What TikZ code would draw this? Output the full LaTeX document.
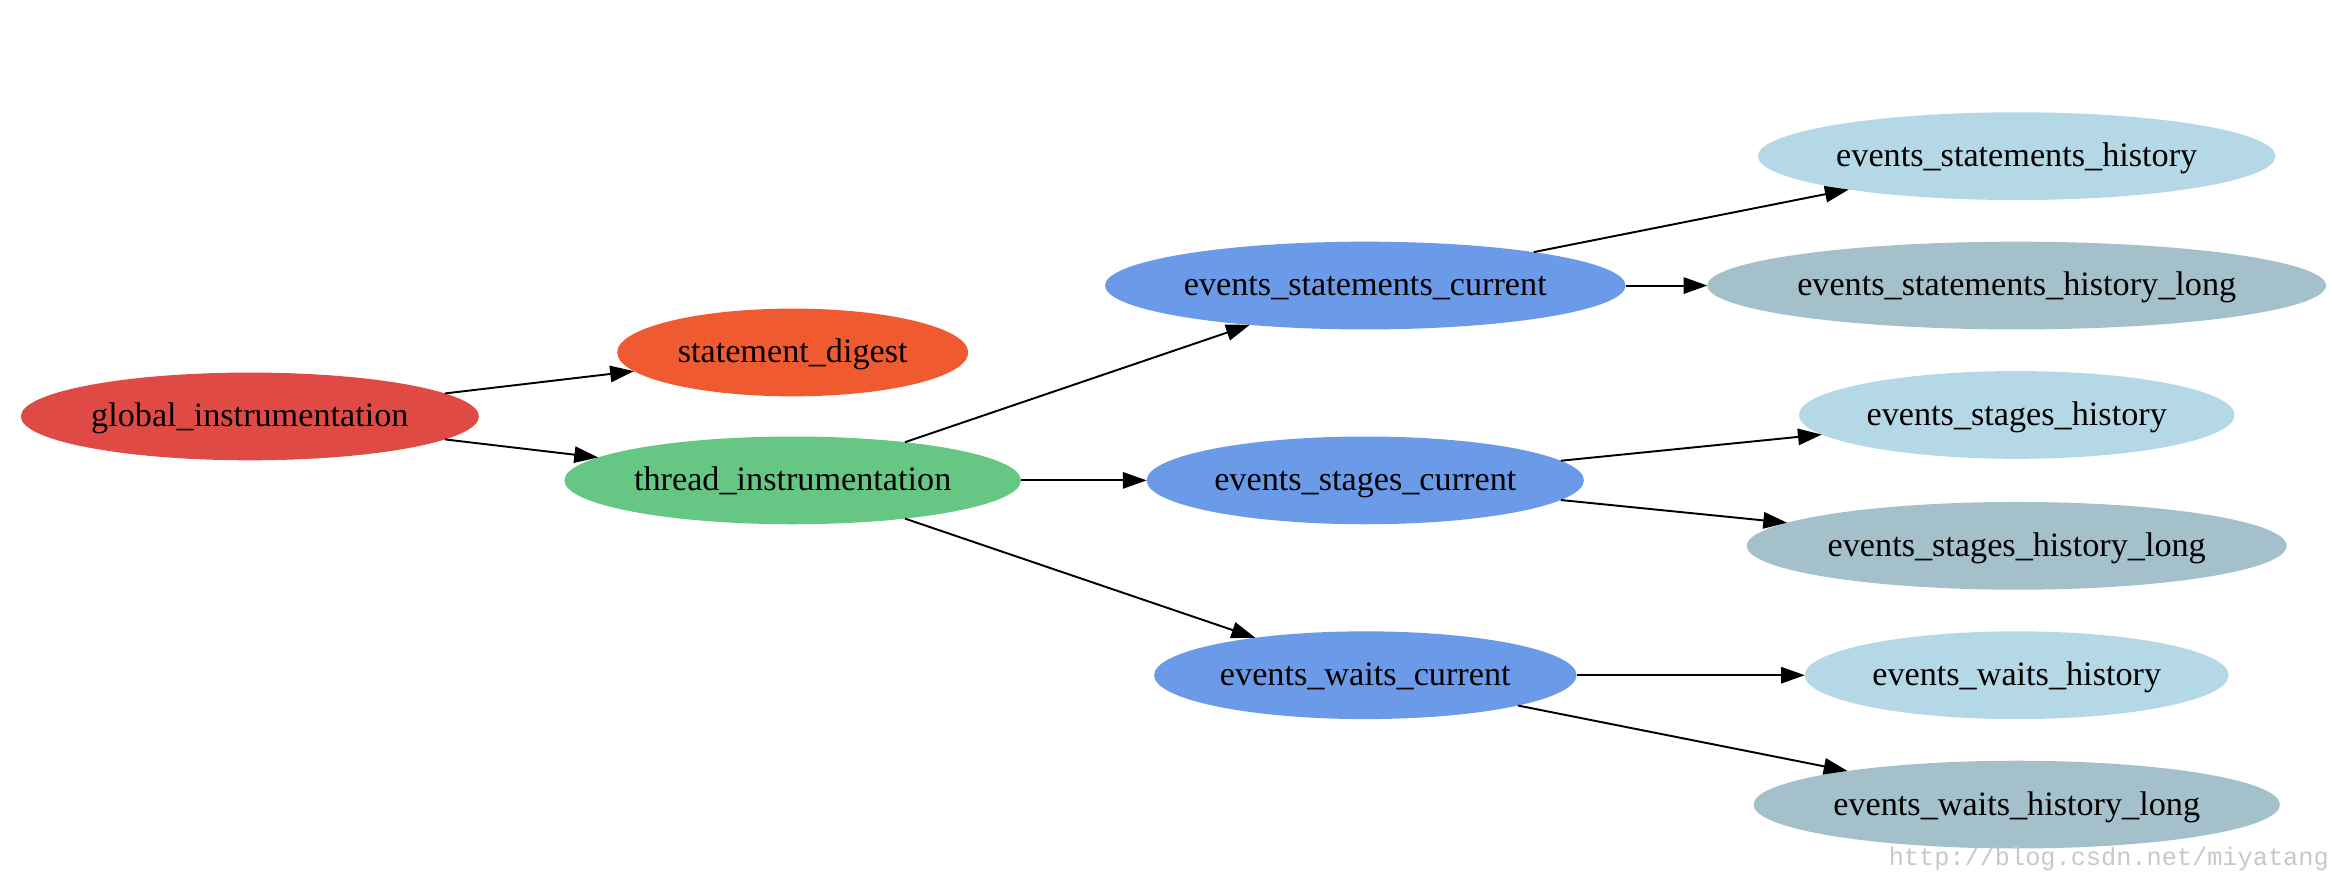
\documentclass[tikz,border=0pt]{standalone}
\usepackage{fontspec}
\setmainfont{Liberation Serif}
\newfontfamily\wmfont{Liberation Mono}
\usetikzlibrary{shapes.geometric,arrows.meta}
\definecolor{cred}{HTML}{E04A44}
\definecolor{corange}{HTML}{F05A30}
\definecolor{cgreen}{HTML}{66C683}
\definecolor{cblue}{HTML}{6B9BE8}
\definecolor{clight}{HTML}{B4D8E6}
\definecolor{clong}{HTML}{A3C0CB}
\definecolor{cwm}{RGB}{200,200,200}
\tikzset{
  gvnode/.style={ellipse, inner sep=0pt, outer sep=0pt, minimum height=59pt,
    font=\fontsize{23}{27}\selectfont, text=black},
  gvedge/.style={line width=1.3pt, -{Triangle[length=16pt,width=11pt]}},
}
\newcommand{\lbl}[1]{\raisebox{-7pt}[0pt][0pt]{\makebox[0pt]{#1}}}
\begin{document}
\begin{tikzpicture}[x=1pt,y=-1pt]
\useasboundingbox (0,0) rectangle (1568,586);
\node[gvnode, fill=cred, minimum width=308pt] (gi) at (168,280) {\lbl{global\_instrumentation}};
\node[gvnode, fill=corange, minimum width=236pt] (sd) at (533,237) {\lbl{statement\_digest}};
\node[gvnode, fill=cgreen, minimum width=307pt] (ti) at (533,323) {\lbl{thread\_instrumentation}};
\node[gvnode, fill=cblue, minimum width=350pt] (esc) at (918,192) {\lbl{events\_statements\_current}};
\node[gvnode, fill=cblue, minimum width=294pt] (egc) at (918,323) {\lbl{events\_stages\_current}};
\node[gvnode, fill=cblue, minimum width=284pt] (ewc) at (918,454) {\lbl{events\_waits\_current}};
\node[gvnode, fill=clight, minimum width=348pt] (esh) at (1356,105) {\lbl{events\_statements\_history}};
\node[gvnode, fill=clong, minimum width=416pt] (eshl) at (1356,192) {\lbl{events\_statements\_history\_long}};
\node[gvnode, fill=clight, minimum width=293pt] (egh) at (1356,279) {\lbl{events\_stages\_history}};
\node[gvnode, fill=clong, minimum width=363pt] (eghl) at (1356,367) {\lbl{events\_stages\_history\_long}};
\node[gvnode, fill=clight, minimum width=285pt] (ewh) at (1356,454) {\lbl{events\_waits\_history}};
\node[gvnode, fill=clong, minimum width=354pt] (ewhl) at (1356,541) {\lbl{events\_waits\_history\_long}};
\draw[gvedge] (gi) -- (sd);
\draw[gvedge] (gi) -- (ti);
\draw[gvedge] (ti) -- (esc);
\draw[gvedge] (ti) -- (egc);
\draw[gvedge] (ti) -- (ewc);
\draw[gvedge] (esc) -- (esh);
\draw[gvedge] (esc) -- (eshl);
\draw[gvedge] (egc) -- (egh);
\draw[gvedge] (egc) -- (eghl);
\draw[gvedge] (ewc) -- (ewh);
\draw[gvedge] (ewc) -- (ewhl);
\node[anchor=base east, inner sep=0pt, text=cwm, font=\wmfont\fontsize{17}{19}\selectfont] (wm) at (1566,582) {http://blog.csdn.net/miyatang};
\end{tikzpicture}
\end{document}
